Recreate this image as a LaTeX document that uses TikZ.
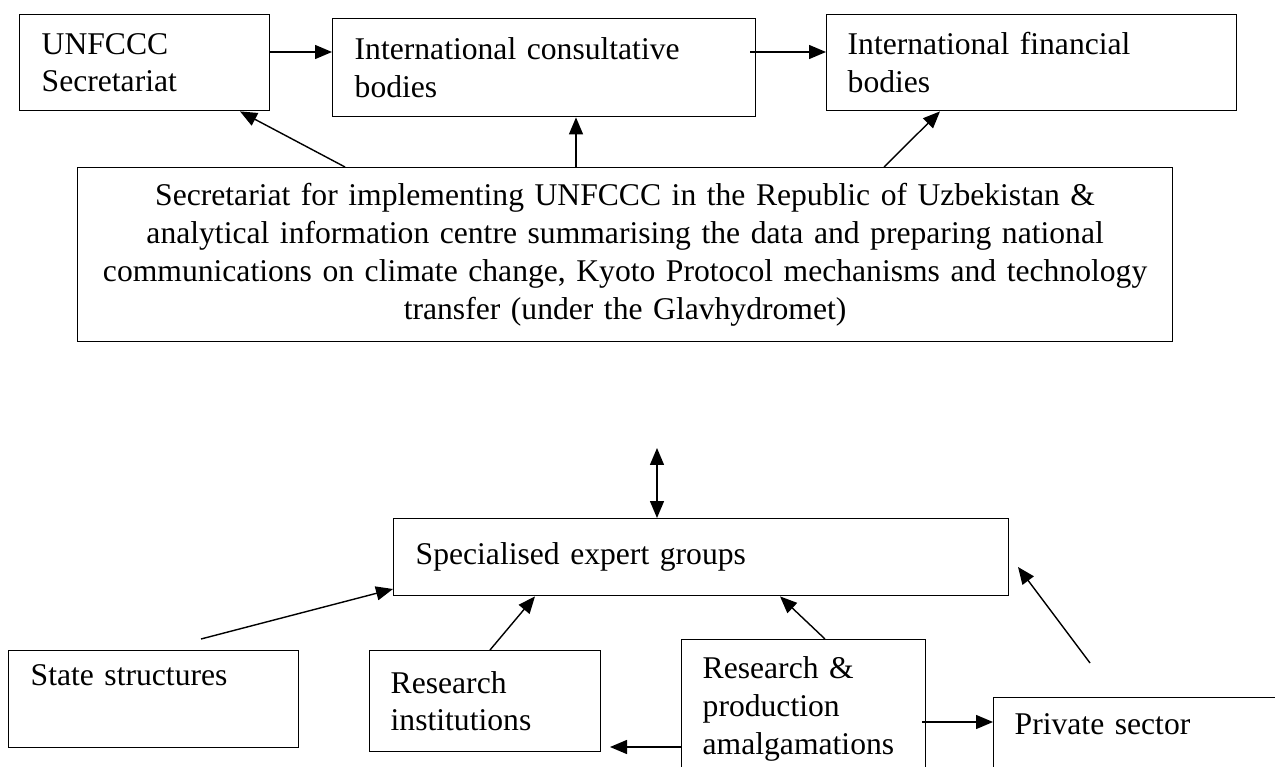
\documentclass[tikz,border=0pt]{standalone}
\usepackage{fontspec}
\setmainfont{Liberation Serif}
\usetikzlibrary{arrows.meta}

\begin{document}
\begin{tikzpicture}[
  x=0.02cm, y=-0.02cm,
  box/.style={draw, line width=0.8pt, inner sep=0pt, anchor=north west, align=left, font=\fontsize{18}{21.5}\selectfont},
  arrow/.style={-{Triangle[length=0.34cm, width=0.28cm]}, line width=0.8pt},
  both/.style={{Triangle[length=0.34cm, width=0.28cm]}-{Triangle[length=0.34cm, width=0.28cm]}, line width=0.8pt}
]
  \useasboundingbox (0,0) rectangle (1275,767);

  % international level
  \node[box, minimum width=5cm, minimum height=1.92cm, text width=4.12cm] (unsec) at (19,14) {UNFCCC\\Secretariat};
  \node[box, minimum width=8.46cm, minimum height=1.96cm, text width=7.58cm] (consult) at (332,18) {International consultative\\bodies};
  \node[box, minimum width=8.2cm, minimum height=1.92cm, text width=7.36cm] (finance) at (826,14) {International financial\\bodies};

  % national secretariat
  \node[box, align=center, minimum width=21.9cm, minimum height=3.48cm, text width=21cm] (natsec) at (77,167)
    {Secretariat for implementing UNFCCC in the Republic of Uzbekistan \&\\analytical information centre summarising the data and preparing national\\communications on climate change, Kyoto Protocol mechanisms and technology\\transfer (under the Glavhydromet)};

  % expert level
  \node[box, minimum width=12.3cm, minimum height=1.54cm, text width=11.42cm] (experts) at (393,518) {Specialised expert groups};
  \node[box, minimum width=5.8cm, minimum height=1.94cm, text width=4.92cm] (state) at (8,650) {State structures\\\strut};
  \node[box, minimum width=4.62cm, minimum height=2.02cm, text width=3.78cm] (research) at (369,650) {Research\\institutions};
  \node[box, minimum width=4.88cm, minimum height=2.76cm, text width=4.04cm] (amalg) at (681,639) {Research \&\\production\\amalgamations};
  \node[box, minimum width=6.2cm, minimum height=2.04cm, text width=5.36cm] (private) at (993,697) {Private sector\\\strut};

  % free ends
  \coordinate (link) at (657,448);
  \coordinate (statefoot) at (201,639);
  \coordinate (privfoot) at (1090,663);
  \coordinate (privtip) at (1018,567);
  \coordinate (restip) at (610,747);

  \draw[arrow] (unsec.east |- 0,52) -- (consult.west |- 0,52);
  \draw[arrow] ([xshift=-0.12cm]consult.east |- 0,52) -- (finance.west |- 0,52);
  \draw[arrow] (natsec.north -| 345,0) -- (unsec.south -| 240,0);
  \draw[arrow] (natsec.north -| 576,0) -- (consult.south -| 576,0);
  \draw[arrow] (natsec.north -| 884,0) -- (finance.south -| 940,0);

  \draw[both] (link) -- (experts.north -| link);
  \draw[arrow] (statefoot) -- (experts.west |- 0,589);
  \draw[arrow] (research.north -| 490,0) -- (experts.south -| 535,0);
  \draw[arrow] (amalg.north -| 825,0) -- (experts.south -| 780,0);
  \draw[arrow] (privfoot) -- (privtip);
  \draw[arrow] (amalg.west |- 0,747) -- (restip);
  \draw[arrow] ([xshift=-0.08cm]amalg.east |- 0,722) -- (private.west |- 0,722);
\end{tikzpicture}
\end{document}
